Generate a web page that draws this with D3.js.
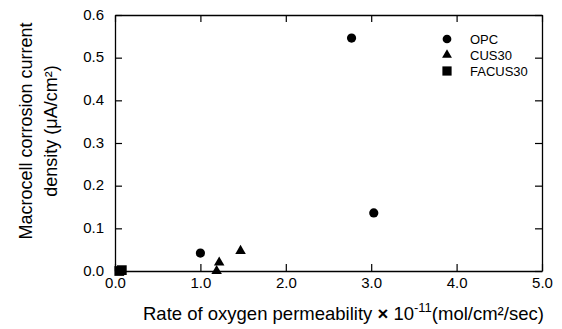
<!DOCTYPE html>
<html><head><meta charset="utf-8">
<script src="https://cdn.jsdelivr.net/npm/d3@7"></script>
<style>body{margin:0;background:#fff}svg{display:block;font-family:"Liberation Sans",Arial,sans-serif}</style>
</head><body><svg id="c" width="562" height="329"></svg>
<script>
const opcX=[1.0,2.77,3.03], opcY=[0.042,0.546,0.136];
const cusX=[1.19,1.22,1.47], cusY=[0.0,0.02,0.047];
const facX=[0.05,0.08], facY=[0.0,0.002];
const seriesNames=["OPC","CUS30","FACUS30"];
const xTicks=[0,1,2,3,4,5], yTicks=[0,0.1,0.2,0.3,0.4,0.5,0.6];

const svg=d3.select("#c");
const L=115,R=542,T=15,B=271;
const x=d3.scaleLinear().domain([0,5]).range([L,R]);
const y=d3.scaleLinear().domain([0,0.6]).range([B,T]);
const g=svg.append("g");
const fmt=d3.format(".1f");
const bx=g.append("g").attr("transform",`translate(0,${B})`).call(d3.axisBottom(x).tickValues(xTicks).tickFormat(fmt).tickSizeInner(-7).tickSizeOuter(0).tickPadding(6));
const tx=g.append("g").attr("transform",`translate(0,${T})`).call(d3.axisTop(x).tickValues(xTicks).tickFormat("").tickSizeInner(-7).tickSizeOuter(0));
const ly=g.append("g").attr("transform",`translate(${L},0)`).call(d3.axisLeft(y).tickValues(yTicks).tickFormat(fmt).tickSizeInner(-7).tickSizeOuter(0).tickPadding(11));
const ry=g.append("g").attr("transform",`translate(${R},0)`).call(d3.axisRight(y).tickValues(yTicks).tickFormat("").tickSizeInner(-7).tickSizeOuter(0));
[bx,tx,ly,ry].forEach(a=>{a.select(".domain").attr("stroke","#000").attr("stroke-width",1.3);a.selectAll("line").attr("stroke","#000").attr("stroke-width",1.2);a.selectAll("text").attr("font-size",15).attr("fill","#000").attr("font-family","Liberation Sans, Arial, sans-serif");});
ly.selectAll("text").attr("dy","0.28em");
bx.selectAll("text").attr("dy","0.71em");
// data
g.selectAll(".opc").data(opcX).join("circle").attr("cx",d=>x(d)).attr("cy",(d,i)=>y(opcY[i])).attr("r",4.6).attr("fill","#000");
const tri=d3.symbol().type(d3.symbolTriangle).size(48);
g.selectAll(".cus").data(cusX).join("path").attr("d",tri).attr("transform",(d,i)=>`translate(${x(d)},${y(cusY[i])})`).attr("fill","#000");
const sq=d3.symbol().type(d3.symbolSquare).size(95);
g.selectAll(".fac").data(facX).join("path").attr("d",sq).attr("transform",(d,i)=>`translate(${x(d)},${y(facY[i])})`).attr("fill","#000");
// legend
const syms=[d3.symbol().type(d3.symbolCircle).size(60),d3.symbol().type(d3.symbolTriangle).size(42),d3.symbol().type(d3.symbolSquare).size(85)];
seriesNames.forEach((n,i)=>{
  const yy=39+i*16;
  g.append("path").attr("d",syms[i]).attr("transform",`translate(447,${yy})`).attr("fill","#000");
  g.append("text").attr("x",470).attr("y",yy+5).attr("font-size",13).text(n);
});
// titles
const yt=svg.append("text").attr("transform","translate(0,131) rotate(-90)").attr("text-anchor","middle").attr("font-size",18);
yt.append("tspan").attr("x",0).attr("y",32).text("Macrocell corrosion current");
yt.append("tspan").attr("x",0).attr("y",57).text("density (\u03bcA/cm\u00b2)");
const xt=svg.append("text").attr("x",143).attr("y",320).attr("font-size",18.5);
xt.append("tspan").text("Rate of oxygen permeability ");
xt.append("tspan").attr("font-weight","bold").text("\u00d7");
xt.append("tspan").text(" 10");
xt.append("tspan").attr("dy",-8).attr("font-size",13).text("-11");
xt.append("tspan").attr("dy",8).text("(mol/cm\u00b2/sec)");
</script></body></html>
